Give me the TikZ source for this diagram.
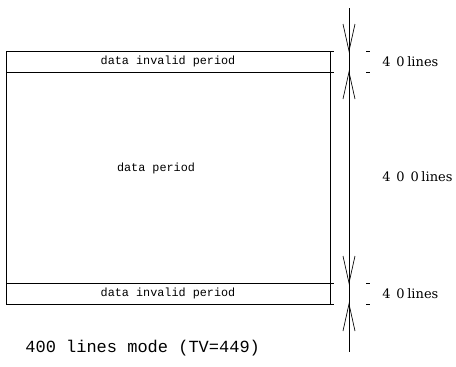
\documentclass[tikz,border=0pt]{standalone}
\usepackage{fontspec}
\setmonofont{Liberation Mono}
\newfontfamily\lblfont{DejaVu Serif}
\begin{document}
\begin{tikzpicture}[x=1pt,y=-1pt,line width=0.7pt,
  band/.style={draw,rectangle,minimum width=324pt,minimum height=21pt,inner sep=0pt,
    font=\ttfamily\fontsize{11.8}{12}\selectfont},
  mainbox/.style={draw,rectangle,minimum width=324pt,minimum height=211pt,inner sep=0pt},
  txt/.style={font=\ttfamily\fontsize{11.8}{12}\selectfont,inner sep=0pt},
  lbl/.style={font=\lblfont\fontsize{13}{13}\selectfont,inner sep=0pt,anchor=west},
  vhead/.pic={\draw (-6,-27) -- (0,0) -- (6,-27);},
  tick/.style={line width=0.6pt}]
\useasboundingbox (0,0) rectangle (456,367);
% boxes
\node[band] (top) at (168,61.5) {data invalid period};
\node[mainbox] (main) at (168,177.5) {};
\node[band] (bot) at (168,293.5) {data invalid period};
\node[txt] (dp) at (156,168) {data period};
% dimension line
\coordinate (a1) at (349,8);
\coordinate (a2) at (349,352);
\draw (a1) -- (a2);
\pic at (349,51) {vhead};
\pic[rotate=180] at (349,72) {vhead};
\pic at (349,283) {vhead};
\pic[rotate=180] at (349,304) {vhead};
% ticks
\foreach \yy in {51,72,283,304}{
  \draw[tick] (331,\yy) -- (334,\yy);
  \draw[tick] (366,\yy) -- (370,\yy);
}
% labels
\node[lbl] (l1) at (382,61.5) {4\hspace{0.45em}0\hspace{0.2em}lines};
\node[lbl] (l2) at (382,177) {4\hspace{0.45em}0\hspace{0.45em}0\hspace{0.2em}lines};
\node[lbl] (l3) at (382,293.5) {4\hspace{0.45em}0\hspace{0.2em}lines};
% caption
\node[font=\ttfamily\fontsize{17}{17}\selectfont,inner sep=0pt,anchor=west] (cap) at (25,348) {400 lines mode (TV=449)};
\end{tikzpicture}
\end{document}
